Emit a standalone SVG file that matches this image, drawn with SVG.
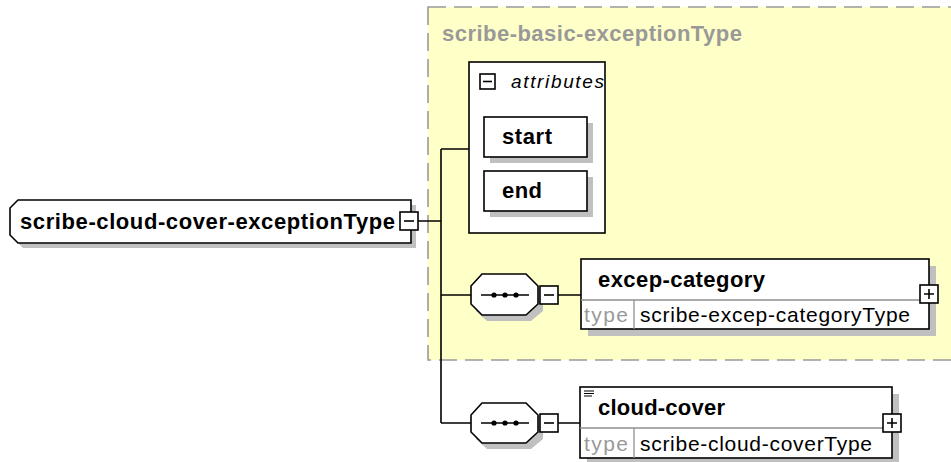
<svg xmlns="http://www.w3.org/2000/svg" width="951" height="462" viewBox="0 0 951 462">
<style>
.bold{font-family:"Liberation Sans",Arial,sans-serif;font-weight:bold;font-size:22px;fill:#000}
.norm{font-family:"Liberation Sans",Arial,sans-serif;font-size:21px;fill:#000}
.gray{font-family:"Liberation Sans",Arial,sans-serif;font-size:21px;fill:#999}
.ital{font-family:"Liberation Sans",Arial,sans-serif;font-style:italic;font-size:19px;fill:#000}
.title{font-family:"Liberation Sans",Arial,sans-serif;font-weight:bold;font-size:22px;fill:#999}
.box{fill:#fff;stroke:#000;stroke-width:1.6}
.shadow{fill:#c0c0c0;stroke:none}
.div{stroke:#909090;stroke-width:1.3;fill:none}
.tog{fill:#fff;stroke:#000;stroke-width:1.6}
.tl{stroke:#000;stroke-width:1.6;fill:none}
.conn{stroke:#000;stroke-width:1.6;fill:none}
</style>
<rect width="951" height="462" fill="#fff"/>

<g id="group-basic">
<rect x="428" y="7" width="540" height="353" fill="#ffffc8" stroke="#999" stroke-width="1.6" stroke-dasharray="18 8"/>
<text class="title" x="442" y="41" textLength="300" lengthAdjust="spacing">scribe-basic-exceptionType</text>
</g>

<g id="connectors">
<path class="conn" d="M418 221 H441 M441 149 V423 M441 149 H469 M441 295 H471 M441 423 H471 M558 295 H581 M558 423 H580"/>
</g>

<g id="root">
<path class="shadow" d="M23 205 H416 V248 H23 L15 240 V213 Z"/>
<path class="box" d="M18 200 H411 V243 H18 L10 235 V208 Z"/>
<text class="bold" x="20" y="229" textLength="375" lengthAdjust="spacing">scribe-cloud-cover-exceptionType</text>
<rect class="tog" x="400" y="212" width="18" height="18"/>
<path class="tl" d="M404 221 H414"/>
</g>

<g id="attributes">
<rect class="box" x="469" y="62" width="136" height="171"/>
<rect class="tog" x="480" y="74" width="15" height="15"/>
<path class="tl" d="M483 81.5 H492"/>
<text class="ital" x="511" y="88" textLength="93" lengthAdjust="spacing">attributes</text>
</g>

<g id="attr-start">
<rect class="shadow" x="490" y="123" width="103" height="40"/>
<rect class="box" x="484" y="117" width="103" height="40"/>
<text class="bold" x="502" y="144" textLength="50" lengthAdjust="spacing">start</text>
</g>

<g id="attr-end">
<rect class="shadow" x="490" y="177" width="103" height="40"/>
<rect class="box" x="484" y="171" width="103" height="40"/>
<text class="bold" x="502" y="198" textLength="40" lengthAdjust="spacing">end</text>
</g>

<g id="seq1">
<path class="shadow" d="M487 279 H531 L543 291 V311 L531 321 H487 L476 311 V291 Z"/>
<path class="box" d="M482 274 H526 L538 286 V304 L526 315 H482 L471 304 V286 Z"/>
<path class="tl" d="M481 295 H529"/>
<circle cx="494" cy="295" r="2.6"/><circle cx="505" cy="295" r="2.6"/><circle cx="516" cy="295" r="2.6"/>
<rect class="tog" x="540" y="286" width="18" height="18"/>
<path class="tl" d="M544 295 H554"/>
</g>

<g id="excep-category">
<rect class="shadow" x="588" y="266" width="348" height="70"/>
<rect class="box" x="581" y="259" width="348" height="70"/>
<path class="div" d="M581 300 H929 M634 300 V329"/>
<text class="bold" x="598" y="287" textLength="167" lengthAdjust="spacing">excep-category</text>
<text class="gray" x="584" y="322" textLength="44" lengthAdjust="spacing">type</text>
<text class="norm" x="640" y="322" textLength="270" lengthAdjust="spacing">scribe-excep-categoryType</text>
<rect class="tog" x="920" y="285" width="18" height="18"/>
<path class="tl" d="M924 294 H934 M929 289 V299"/>
</g>

<g id="seq2">
<path class="shadow" d="M487 408 H531 L543 420 V439 L531 449 H487 L476 439 V420 Z"/>
<path class="box" d="M482 403 H526 L538 415 V432 L526 443 H482 L471 432 V415 Z"/>
<path class="tl" d="M481 423 H529"/>
<circle cx="494" cy="423" r="2.6"/><circle cx="505" cy="423" r="2.6"/><circle cx="516" cy="423" r="2.6"/>
<rect class="tog" x="540" y="414" width="18" height="18"/>
<path class="tl" d="M544 423 H554"/>
</g>

<g id="cloud-cover">
<rect class="shadow" x="587" y="394" width="312" height="71"/>
<rect class="box" x="580" y="387" width="312" height="71"/>
<path class="div" d="M580 428 H892 M634 428 V458"/>
<path stroke="#000" stroke-width="1.2" d="M584 391 H594 M584 393.5 H594 M584 396 H592"/>
<text class="bold" x="598" y="415" textLength="127" lengthAdjust="spacing">cloud-cover</text>
<text class="gray" x="584" y="451" textLength="44" lengthAdjust="spacing">type</text>
<text class="norm" x="640" y="451" textLength="232" lengthAdjust="spacing">scribe-cloud-coverType</text>
<rect class="tog" x="883" y="414" width="18" height="18"/>
<path class="tl" d="M887 423 H897 M892 418 V428"/>
</g>
</svg>
